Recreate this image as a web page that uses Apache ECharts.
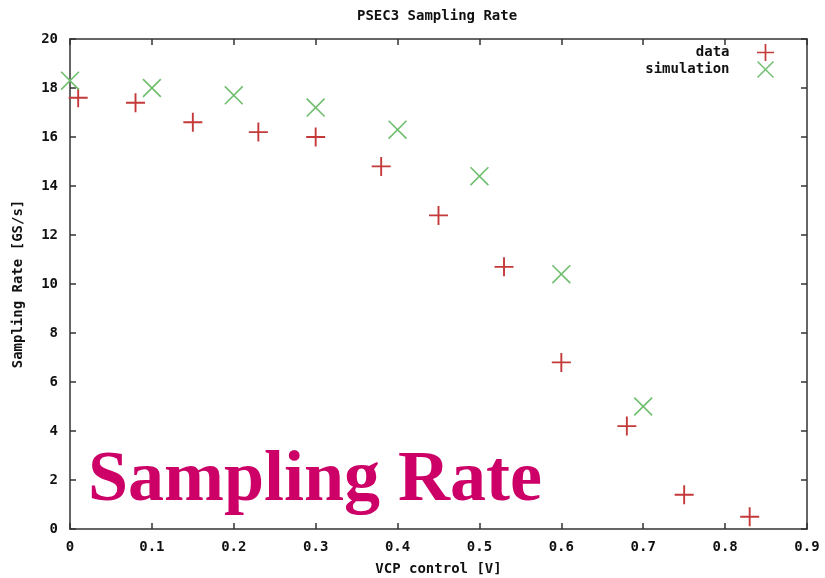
<!DOCTYPE html>
<html>
<head>
<meta charset="utf-8">
<script src="https://cdn.jsdelivr.net/npm/echarts@6/dist/echarts.min.js"></script>
<style>html,body{margin:0;padding:0;background:#fff}#c{width:825px;height:578px}</style>
</head>
<body>
<div id="c"></div>
<script>
const dataX = [0.01, 0.08, 0.15, 0.23, 0.30, 0.38, 0.45, 0.53, 0.60, 0.68, 0.75, 0.83];
const dataY = [17.6, 17.4, 16.6, 16.2, 16.0, 14.8, 12.8, 10.7, 6.8, 4.2, 1.4, 0.5];
const simX = [0.0, 0.1, 0.2, 0.3, 0.4, 0.5, 0.6, 0.7];
const simY = [18.3, 18.0, 17.7, 17.2, 16.3, 14.4, 10.4, 5.0];
const xTicks = ['0', '0.1', '0.2', '0.3', '0.4', '0.5', '0.6', '0.7', '0.8', '0.9'];
const yTicks = ['0', '2', '4', '6', '8', '10', '12', '14', '16', '18', '20'];

const FONT = 'DejaVu Sans Mono';
const plusPath = 'path://M0,4.5H10V5.5H0Z M4.5,0H5.5V10H4.5Z';
const crossPath = 'path://M0,0.6L0.6,0L10,9.4L9.4,10Z M9.4,0L10,0.6L0.6,10L0,9.4Z';

const chart = echarts.init(document.getElementById('c'), null, {renderer: 'canvas'});
const axisLine = {show: true, onZero: false, lineStyle: {color: '#333', width: 1.5}};
const tick = {show: true, inside: true, length: 6, lineStyle: {color: '#333', width: 1.5}};
const lbl = {fontFamily: FONT, fontWeight: 'bold', fontSize: 14, color: '#111'};

chart.setOption({
  animation: false,
  backgroundColor: '#fff',
  title: {
    text: 'PSEC3 Sampling Rate',
    left: 352, top: 4,
    textStyle: {fontFamily: FONT, fontWeight: 'bold', fontSize: 14, color: '#111'}
  },
  legend: {
    orient: 'vertical',
    right: 46, top: 39,
    align: 'right',
    itemWidth: 18, itemHeight: 17, itemGap: 0,
    textStyle: Object.assign({}, lbl, {padding: [0, 22, 0, 0]}),
    data: ['data', 'simulation']
  },
  grid: {left: 70, right: 18, top: 39, bottom: 49, containLabel: false, outerBoundsMode: 'none'},
  xAxis: [{
    type: 'value', position: 'bottom', min: 0, max: 0.9, interval: 0.1,
    name: 'VCP control [V]', nameLocation: 'middle', nameGap: 33,
    nameTextStyle: lbl,
    axisLine: axisLine,
    axisTick: tick,
    axisLabel: Object.assign({}, lbl, {margin: 11, formatter: (v) => xTicks[Math.round(v * 10)]}),
    splitLine: {show: false}
  }, {
    type: 'value', position: 'top', min: 0, max: 0.9, interval: 0.1,
    axisLine: axisLine,
    axisTick: tick,
    axisLabel: {show: false}, splitLine: {show: false}
  }],
  yAxis: [{
    type: 'value', position: 'left', min: 0, max: 20, interval: 2,
    name: 'Sampling Rate [GS/s]', nameLocation: 'middle', nameGap: 45,
    nameTextStyle: lbl,
    axisLine: axisLine,
    axisTick: tick,
    axisLabel: Object.assign({}, lbl, {margin: 12, formatter: (v) => yTicks[Math.round(v / 2)]}),
    splitLine: {show: false}
  }, {
    type: 'value', position: 'right', min: 0, max: 20, interval: 2,
    axisLine: axisLine,
    axisTick: tick,
    axisLabel: {show: false}, splitLine: {show: false}
  }],
  series: [{
    name: 'data', type: 'scatter',
    symbol: plusPath, symbolSize: 19,
    itemStyle: {color: '#c43a3a', opacity: 1},
    data: dataX.map((x, i) => [x, dataY[i]])
  }, {
    name: 'simulation', type: 'scatter',
    symbol: crossPath, symbolSize: 19,
    itemStyle: {color: '#6fbf6f', opacity: 1},
    data: simX.map((x, i) => [x, simY[i]])
  }],
  graphic: [{
    type: 'text', left: 88, top: 445, z: 100,
    style: {
      text: 'Sampling Rate',
      font: 'bold 72px "Liberation Serif"',
      fill: '#cc0066'
    }
  }]
});
</script>
</body>
</html>
